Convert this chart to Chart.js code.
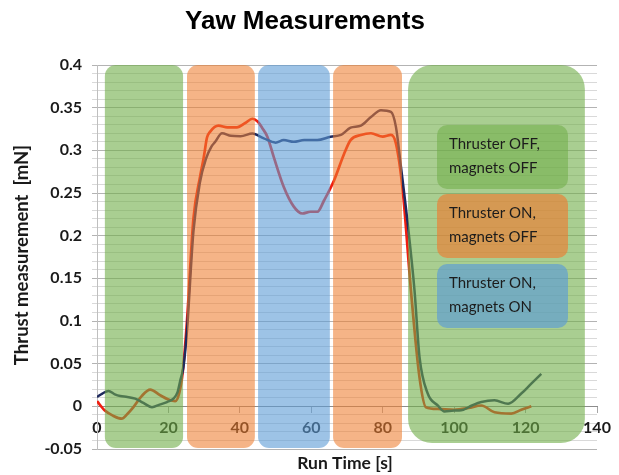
<!DOCTYPE html>
<html>
<head>
<meta charset="utf-8">
<script src="https://cdn.jsdelivr.net/npm/chart.js@4"></script>
<style>
  html, body { margin: 0; padding: 0; background: #fff; }
</style>
</head>
<body>
<canvas id="yawChart" width="619" height="475"></canvas>
<script>
// magnets run (navy) and no-magnets run (red)
const timeNavy = [0, 1.5, 3.2, 5, 6.5, 8.5, 10.7, 13, 15.4, 17.5, 19.6, 21.4, 22.5, 23.3, 24.2, 25.2, 27, 28.8, 30.5, 32, 33.1, 35, 37.5, 40.2, 43.5, 46.7, 50, 52.3, 55.1, 58, 61.7, 65.4, 68.3, 71, 73.9, 76.7, 79.5, 82.3, 83.7, 85.1, 87, 88.9, 90.3, 92.6, 95.4, 97.3, 100, 102, 105, 107.6, 111.3, 115.1, 118.8, 121.6, 124.4];
const thrustNavy = [0.011, 0.015, 0.018, 0.014, 0.012, 0.011, 0.009, 0.004, -0.001, 0.002, 0.005, 0.009, 0.016, 0.03, 0.046, 0.089, 0.205, 0.262, 0.29, 0.304, 0.31, 0.32, 0.317, 0.3165, 0.3197, 0.314, 0.309, 0.312, 0.31, 0.312, 0.312, 0.316, 0.318, 0.3265, 0.329, 0.339, 0.347, 0.345, 0.3275, 0.281, 0.214, 0.136, 0.058, 0.015, 0.001, -0.006, -0.005, -0.0047, 0.001, 0.005, 0.007, 0.003, 0.015, 0.0266, 0.038];

const timeRed = [0, 2.2, 4.5, 6.9, 8.5, 10.2, 12.5, 14.9, 17.7, 20, 21.9, 23, 24, 25.2, 27, 28.9, 29.9, 30.8, 31.7, 34, 36.5, 39.2, 41.5, 43.5, 44.9, 46.3, 47.7, 49.5, 52.3, 55.1, 57.5, 59.8, 61.7, 63.6, 66.4, 69.2, 71, 73.9, 76.7, 80, 82.3, 83.7, 85.6, 87.9, 90.3, 92.1, 95.4, 100, 104, 107.6, 111.3, 116, 118.8, 121.6];
const thrustRed = [0.006, -0.005, -0.011, -0.0145, -0.009, -0.001, 0.012, 0.0196, 0.013, 0.008, 0.006, 0.015, 0.04, 0.1, 0.22, 0.27, 0.292, 0.315, 0.322, 0.329, 0.327, 0.327, 0.332, 0.337, 0.334, 0.326, 0.316, 0.292, 0.257, 0.234, 0.226, 0.228, 0.228, 0.2415, 0.265, 0.296, 0.312, 0.318, 0.32, 0.316, 0.318, 0.308, 0.253, 0.136, 0.034, -0.001, -0.003, -0.004, -0.002, 0.001, -0.007, -0.0086, -0.004, 0];

// test phases along the run time axis
const phaseStart = [2.2, 25.2, 45.1, 66.1, 87.1];
const phaseEnd = [24.1, 44.2, 65.2, 85.4, 136.6];
const phaseKind = ["off", "on", "mag", "on", "off"];

const legendKind = ["off", "on", "mag"];
const legendText = [
  ["Thruster OFF,", "magnets OFF"],
  ["Thruster ON,", "magnets OFF"],
  ["Thruster ON,", "magnets ON"],
];

const phaseColors = {
  off: "rgba(112, 173, 71, 0.6)",
  on: "rgba(237, 125, 49, 0.58)",
  mag: "rgba(91, 155, 213, 0.6)",
};
const boxColors = {
  off: "rgba(112, 173, 71, 0.55)",
  on: "rgba(237, 125, 49, 0.65)",
  mag: "rgba(91, 155, 213, 0.65)",
};

const toPoints = (xs, ys) => xs.map((x, i) => ({ x: x, y: ys[i] }));

const isMajor = (v) => Math.abs(Math.round(v * 1000) % 50) === 0;

const phasePlugin = {
  id: "phases",
  afterDatasetsDraw(chart) {
    const { ctx, chartArea, scales } = chart;
    ctx.save();
    phaseStart.forEach((t0, i) => {
      const x0 = scales.x.getPixelForValue(t0);
      const x1 = scales.x.getPixelForValue(phaseEnd[i]);
      const last = i === phaseStart.length - 1;
      const bottom = last ? chartArea.bottom - 6 : chartArea.bottom - 1;
      ctx.beginPath();
      ctx.roundRect(x0, chartArea.top, x1 - x0, bottom - chartArea.top, last ? 24 : 11);
      ctx.fillStyle = phaseColors[phaseKind[i]];
      ctx.fill();
    });

    // boxes explaining the colours
    const boxLeft = chartArea.left + 340;
    const boxWidth = 131;
    const boxTops = [chartArea.top + 60, chartArea.top + 129, chartArea.top + 199];
    const boxHeight = 64;
    ctx.font = "15px Lato";
    ctx.textAlign = "left";
    ctx.textBaseline = "middle";
    legendKind.forEach((kind, i) => {
      ctx.beginPath();
      ctx.roundRect(boxLeft, boxTops[i], boxWidth, boxHeight, 10);
      ctx.fillStyle = boxColors[kind];
      ctx.fill();
      ctx.fillStyle = "#1c1c1c";
      ctx.fillText(legendText[i][0], boxLeft + 12, boxTops[i] + 19);
      ctx.fillText(legendText[i][1], boxLeft + 12, boxTops[i] + 43);
    });
    ctx.restore();
  },
  afterDraw(chart) {
    const { ctx, chartArea } = chart;
    ctx.save();
    ctx.fillStyle = "#000";
    ctx.textAlign = "center";
    ctx.textBaseline = "middle";
    ctx.font = "bold 26px 'Liberation Sans', Arial";
    ctx.fillText("Yaw Measurements", 305, 22);

    ctx.fillStyle = "#1a1a1a";
    ctx.font = "bold 17.5px Lato";
    ctx.fillText("Run Time [s]", 345, 463);

    ctx.translate(22, 255);
    ctx.rotate(-Math.PI / 2);
    ctx.font = "bold 18.5px Lato";
    ctx.fillText("Thrust measurement  [mN]", 0, 0);
    ctx.restore();
  },
};

const yawCtx = document.getElementById("yawChart").getContext("2d");
const yawChart = new Chart(yawCtx, {
  type: "line",
  data: {
    datasets: [
      {
        label: "Thruster, magnets",
        data: toPoints(timeNavy, thrustNavy),
        borderColor: "#1f2a5e",
        borderWidth: 2.5,
        pointRadius: 0,
        cubicInterpolationMode: "monotone",
      },
      {
        label: "Thruster, no magnets",
        data: toPoints(timeRed, thrustRed),
        borderColor: "#f01e10",
        borderWidth: 2.7,
        pointRadius: 0,
        cubicInterpolationMode: "monotone",
      },
    ],
  },
  options: {
    responsive: false,
    devicePixelRatio: 1,
    animation: false,
    layout: {
      padding: { top: 65, right: 22, bottom: 26, left: 0 },
    },
    plugins: {
      legend: { display: false },
      tooltip: { enabled: false },
    },
    scales: {
      x: {
        type: "linear",
        position: { y: 0 },
        min: 0,
        max: 140,
        ticks: {
          stepSize: 20,
          color: "#1a1a1a",
          font: { family: "Lato", weight: "bold", size: 16 },
          padding: 6,
        },
        grid: {
          drawOnChartArea: false,
          tickLength: 6,
          tickColor: "#a6a6a6",
        },
        border: { color: "#8c8c8c", width: 1 },
      },
      y: {
        min: -0.05,
        max: 0.4,
        afterFit: (scale) => {
          scale.width = 97;
        },
        ticks: {
          stepSize: 0.01,
          autoSkip: false,
          padding: 10,
          color: "#1a1a1a",
          font: { family: "Lato", weight: "bold", size: 16 },
          callback: (value) => (isMajor(value) ? String(Math.round(value * 100) / 100) : ""),
        },
        grid: {
          tickLength: 5,
          color: (c) => (isMajor(c.tick.value) ? "#b3b3b3" : "#d9d9d9"),
          tickColor: (c) => (isMajor(c.tick.value) ? "#b3b3b3" : "#d9d9d9"),
        },
        border: { color: "#bfbfbf", width: 1 },
      },
    },
  },
  plugins: [phasePlugin],
});
</script>
</body>
</html>
